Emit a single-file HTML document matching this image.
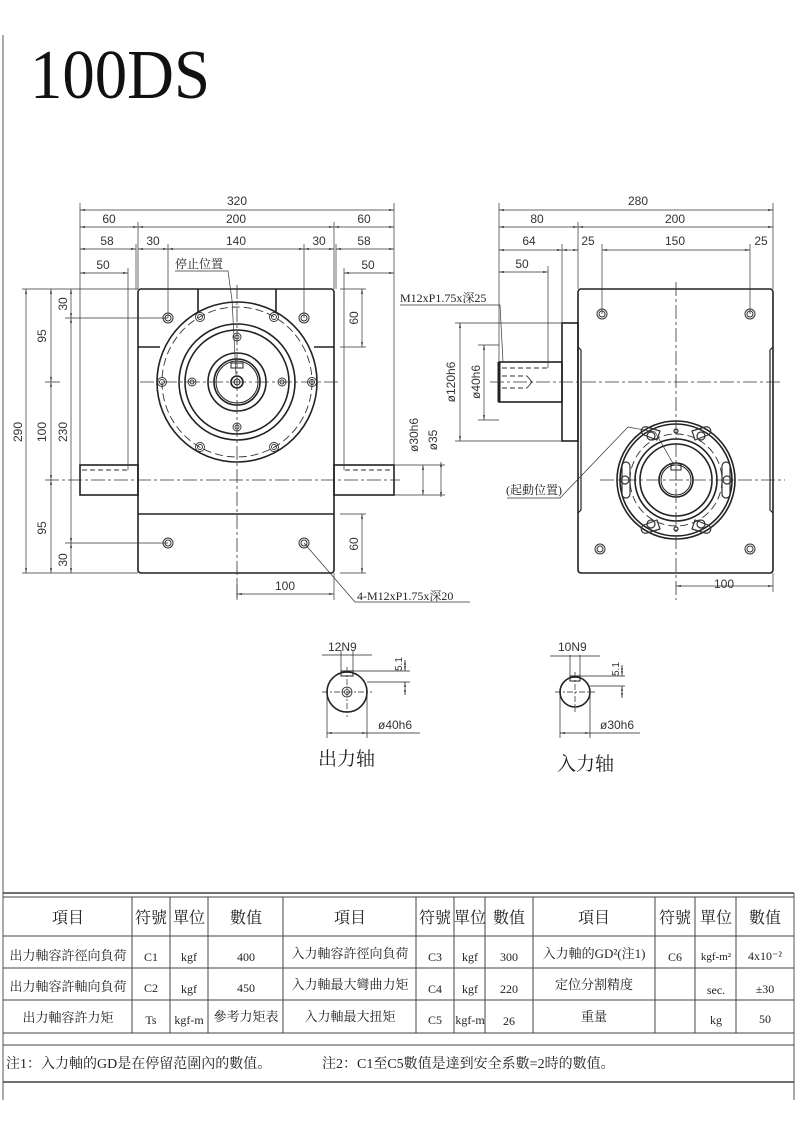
<!DOCTYPE html>
<html><head><meta charset="utf-8"><style>
html,body{margin:0;padding:0;background:#fff}
svg{display:block}
text{font-family:"Liberation Sans","Noto Sans CJK TC",sans-serif;fill:#333}
.s{font-family:"Liberation Serif","Noto Serif CJK SC",serif;fill:#222}
</style></head><body>
<svg width="800" height="1131" viewBox="0 0 800 1131" xmlns="http://www.w3.org/2000/svg">
<defs>
<marker id="a" viewBox="0 0 10 4" refX="10" refY="2" markerWidth="7" markerHeight="3" orient="auto-start-reverse"><path d="M0,0L10,2L0,4z" fill="#333"/></marker>
</defs>
<line x1="3" y1="35" x2="3" y2="1100" stroke="#555" stroke-width="1"/>
<line x1="794" y1="893" x2="794" y2="1100" stroke="#555"/>
<text x="30" y="98" class="s" font-size="70" textLength="180" lengthAdjust="spacingAndGlyphs" style="fill:#111">100DS</text>

<g stroke="#222" fill="none" stroke-width="1.6">
<rect x="138" y="289" width="196" height="284" rx="3"/>
<line x1="138" y1="347" x2="160" y2="347"/><line x1="314" y1="347" x2="334" y2="347"/>
<line x1="198" y1="289" x2="198" y2="325"/><line x1="276" y1="289" x2="276" y2="325"/>
<line x1="138" y1="514" x2="334" y2="514"/>
<rect x="80" y="465" width="58" height="30"/>
<rect x="334" y="465" width="60" height="30"/>
<circle cx="237" cy="382" r="80" fill="#fff"/>
<circle cx="237" cy="382" r="58"/><circle cx="237" cy="382" r="52"/>
<circle cx="237" cy="382" r="29"/><circle cx="237" cy="382" r="23"/><circle cx="237" cy="382" r="21" stroke-width="1"/>
<circle cx="237" cy="382" r="6"/><circle cx="237" cy="382" r="3" stroke-width="1"/>
<rect x="231" y="363" width="12" height="5" stroke-width="1"/>
<rect x="578" y="289" width="195" height="284" rx="3"/>
<path d="M578,347 L581,350 L581,510 L578,513 M773,347 L770,350 L770,510 L773,513" stroke-width="1.2"/>
<rect x="562" y="323" width="16" height="118"/>
<rect x="499" y="362" width="63" height="40"/>
<line x1="499" y1="362" x2="499" y2="402" stroke-width="3"/>
<circle cx="676" cy="480" r="59" fill="#fff"/><circle cx="676" cy="480" r="56"/>
<circle cx="676" cy="480" r="41"/><circle cx="676" cy="480" r="36"/>
<circle cx="676" cy="480" r="17"/><circle cx="676" cy="480" r="15" stroke-width="1"/>
<rect x="671" y="465" width="10" height="5" stroke-width="1"/>
</g>

<g stroke="#333" fill="none" stroke-width="0.9">
<circle cx="237" cy="382" r="75" stroke-dasharray="8,4"/>
<circle cx="676" cy="480" r="46" stroke-dasharray="8,4"/>
<g>
<circle cx="312" cy="382" r="4.5"/><circle cx="312" cy="382" r="2.5"/>
<circle cx="162" cy="382" r="4.5"/><circle cx="162" cy="382" r="2.5"/>
<circle cx="274" cy="317" r="4.5"/><circle cx="274" cy="317" r="2.5"/>
<circle cx="200" cy="317" r="4.5"/><circle cx="200" cy="317" r="2.5"/>
<circle cx="274" cy="447" r="4.5"/><circle cx="274" cy="447" r="2.5"/>
<circle cx="200" cy="447" r="4.5"/><circle cx="200" cy="447" r="2.5"/>
<circle cx="237" cy="337" r="4"/><circle cx="237" cy="337" r="2"/>
<circle cx="237" cy="427" r="4"/><circle cx="237" cy="427" r="2"/>
<circle cx="192" cy="382" r="4"/><circle cx="192" cy="382" r="2"/>
<circle cx="282" cy="382" r="4"/><circle cx="282" cy="382" r="2"/>
</g>
<g stroke-width="1">
<circle cx="168" cy="318" r="5"/><circle cx="168" cy="318" r="3"/>
<circle cx="304" cy="318" r="5"/><circle cx="304" cy="318" r="3"/>
<circle cx="168" cy="543" r="5"/><circle cx="168" cy="543" r="3"/>
<circle cx="304" cy="543" r="5"/><circle cx="304" cy="543" r="3"/>
<circle cx="602" cy="314" r="5"/><circle cx="602" cy="314" r="3"/>
<circle cx="750" cy="314" r="5"/><circle cx="750" cy="314" r="3"/>
<circle cx="600" cy="549" r="5"/><circle cx="600" cy="549" r="3"/>
<circle cx="750" cy="549" r="5"/><circle cx="750" cy="549" r="3"/>
</g>
<g stroke-width="1.2">
<circle cx="727" cy="480" r="4"/><circle cx="625" cy="480" r="4"/>
<circle cx="701" cy="436" r="4"/><circle cx="651" cy="436" r="4"/>
<circle cx="701" cy="524" r="4"/><circle cx="651" cy="524" r="4"/>
<circle cx="676" cy="431" r="2"/><circle cx="676" cy="529" r="2"/>
<path d="M722,466 a4,4 0 0 1 8,0 v28 a4,4 0 0 1 -8,0z"/>
<path d="M622,466 a4,4 0 0 1 8,0 v28 a4,4 0 0 1 -8,0z"/>
<path d="M692,431 l13,-4 a4,4 0 0 1 3,8 l-13,5z M660,431 l-13,-4 a4,4 0 0 0 -3,8 l13,5z"/>
<path d="M692,529 l13,4 a4,4 0 0 0 3,-8 l-13,-5z M660,529 l-13,4 a4,4 0 0 1 -3,-8 l13,-5z"/>
</g>
<g stroke-dasharray="14,3,3,3" stroke-width="0.8">
<line x1="237" y1="285" x2="237" y2="600"/>
<line x1="140" y1="382" x2="340" y2="382"/>
<line x1="45" y1="480" x2="400" y2="480"/>
<line x1="676" y1="282" x2="676" y2="600"/>
<line x1="490" y1="382" x2="780" y2="382"/>
<line x1="600" y1="480" x2="785" y2="480"/>
</g>
<g stroke-dasharray="5,3">
<path d="M82,470 H128 M345,470 H390"/>
<path d="M502,368 H548 M502,376 H527 M502,388 H527"/>
</g>
<path d="M527,376 L532,382 L527,388" />

<g stroke-width="0.7">
<path d="M80,203 V465 M394,203 V465 M138,222 V289 M334,222 V289 M136,244 V289 M168,244 V318 M304,244 V318 M336,244 V289 M128,268 V470 M344,268 V470"/>
<path d="M22,289 H138 M22,573 H138 M45,382 H60 M65,318 H168 M65,543 H168 M340,289 H366 M340,347 H366 M340,514 H366 M340,573 H366"/>
<path d="M237,580 V600 M334,573 V600 M394,465 H445 M394,495 H445"/>
<path d="M499,203 V362 M773,203 V289 M578,222 V289 M562,244 V323 M602,244 V314 M750,244 V314 M548,266 V368"/>
<path d="M455,323 H562 M455,441 H562 M478,345 H499 M478,420 H499 M773,573 V592"/>
<path d="M175,271 H228 L232,300 L236,375"/>
<path d="M304,543 L355,602 H470"/>
<path d="M400,305 H500 L503,362"/>
<path d="M507,498 H560 L628,427 L655,432 L674,465"/>
</g>

<g stroke-width="0.7" marker-start="url(#a)" marker-end="url(#a)">
<line x1="80" y1="210" x2="394" y2="210"/>
<line x1="80" y1="227" x2="138" y2="227"/><line x1="138" y1="227" x2="334" y2="227"/><line x1="334" y1="227" x2="394" y2="227"/>
<line x1="80" y1="249" x2="136" y2="249"/><line x1="138" y1="249" x2="168" y2="249"/><line x1="168" y1="249" x2="304" y2="249"/><line x1="304" y1="249" x2="334" y2="249"/><line x1="336" y1="249" x2="394" y2="249"/>
<line x1="80" y1="273" x2="128" y2="273"/><line x1="344" y1="273" x2="394" y2="273"/>
<line x1="26" y1="289" x2="26" y2="573"/>
<line x1="51" y1="289" x2="51" y2="382"/><line x1="51" y1="382" x2="51" y2="480"/><line x1="51" y1="480" x2="51" y2="573"/>
<line x1="71" y1="289" x2="71" y2="318"/><line x1="71" y1="318" x2="71" y2="543"/><line x1="71" y1="543" x2="71" y2="573"/>
<line x1="362" y1="289" x2="362" y2="347"/><line x1="362" y1="514" x2="362" y2="573"/>
<line x1="237" y1="594" x2="334" y2="594"/>
<line x1="423" y1="465" x2="423" y2="495"/><line x1="441" y1="462" x2="441" y2="497"/>
<line x1="499" y1="210" x2="773" y2="210"/>
<line x1="499" y1="227" x2="578" y2="227"/><line x1="578" y1="227" x2="773" y2="227"/>
<line x1="499" y1="250" x2="562" y2="250"/><line x1="562" y1="250" x2="578" y2="250"/><line x1="602" y1="250" x2="750" y2="250"/>
<line x1="499" y1="272" x2="548" y2="272"/>
<line x1="460" y1="323" x2="460" y2="441"/><line x1="484" y1="345" x2="484" y2="420"/>
<line x1="676" y1="586" x2="773" y2="586"/>
</g>
</g>

<g font-size="12" text-anchor="middle">
<text x="237" y="205">320</text>
<text x="109" y="223">60</text><text x="236" y="223">200</text><text x="364" y="223">60</text>
<text x="107" y="245">58</text><text x="153" y="245">30</text><text x="236" y="245">140</text><text x="319" y="245">30</text><text x="364" y="245">58</text>
<text x="103" y="269">50</text><text x="368" y="269">50</text>
<text x="638" y="205">280</text>
<text x="537" y="223">80</text><text x="675" y="223">200</text>
<text x="529" y="245">64</text><text x="588" y="245">25</text><text x="675" y="245">150</text><text x="761" y="245">25</text>
<text x="522" y="268">50</text>
<text x="285" y="590">100</text><text x="724" y="588">100</text>
<text transform="translate(22,432) rotate(-90)">290</text>
<text transform="translate(46,336) rotate(-90)">95</text>
<text transform="translate(46,432) rotate(-90)">100</text>
<text transform="translate(46,528) rotate(-90)">95</text>
<text transform="translate(67,304) rotate(-90)">30</text>
<text transform="translate(67,432) rotate(-90)">230</text>
<text transform="translate(67,560) rotate(-90)">30</text>
<text transform="translate(358,318) rotate(-90)">60</text>
<text transform="translate(358,544) rotate(-90)">60</text>
<text transform="translate(418,435) rotate(-90)">ø30h6</text>
<text transform="translate(437,440) rotate(-90)">ø35</text>
<text transform="translate(455,382) rotate(-90)">ø120h6</text>
<text transform="translate(480,382) rotate(-90)">ø40h6</text>
</g>
<g font-size="12">
<text x="175" y="268" class="s">停止位置</text>
<text x="400" y="302" class="s">M12xP1.75x深25</text>
<text x="357" y="600" class="s">4-M12xP1.75x深20</text>
<text x="506" y="494" class="s">(起動位置)</text>
</g>

<g stroke="#222" fill="none">
<circle cx="347" cy="692" r="20" stroke-width="1.6"/>
<circle cx="347" cy="692" r="5" stroke-width="0.8"/><circle cx="347" cy="692" r="2.5" stroke-width="0.8"/>
<rect x="341" y="671" width="12" height="5" stroke-width="1"/>
<circle cx="575" cy="692" r="15" stroke-width="1.6"/>
<rect x="570" y="676" width="10" height="5" stroke-width="1"/>
<g stroke-width="0.7" stroke-dasharray="6,2,2,2"><path d="M322,692 H372 M347,667 V717 M555,692 H595 M575,672 V712"/></g>
<g stroke-width="0.7">
<path d="M341,650 V671 M353,650 V671 M327,692 V738 M367,692 V738 M353,671 H410 M367,682 H410"/>
<path d="M570,655 V676 M580,655 V676 M560,692 V738 M590,692 V738 M580,676 H625 M590,686 H625"/>
<path d="M322,655 H372 M367,733 H420 M550,656 H600 M590,733 H640"/>
</g>
<g stroke-width="0.7" marker-start="url(#a)" marker-end="url(#a)">
<line x1="327" y1="733" x2="367" y2="733"/><line x1="405" y1="660" x2="405" y2="671"/><line x1="405" y1="682" x2="405" y2="695"/>
<line x1="560" y1="733" x2="590" y2="733"/><line x1="622" y1="665" x2="622" y2="676"/><line x1="622" y1="686" x2="622" y2="698"/>
</g>
</g>
<g font-size="12">
<text x="328" y="651">12N9</text><text x="558" y="651">10N9</text>
<text x="378" y="729">ø40h6</text><text x="600" y="729">ø30h6</text>
<text transform="translate(402,671) rotate(-90)" font-size="10">5.1</text>
<text transform="translate(619,676) rotate(-90)" font-size="10">5.1</text>
</g>
<text x="318" y="765" font-size="19" class="s">出力轴</text>
<text x="557" y="770" font-size="19" class="s">入力轴</text>

<g stroke="#444" stroke-width="1" fill="none">
<line x1="3" y1="893" x2="794" y2="893" stroke-width="1.5"/>
<line x1="3" y1="897" x2="794" y2="897"/>
<line x1="3" y1="936" x2="794" y2="936"/>
<line x1="3" y1="968" x2="794" y2="968"/>
<line x1="3" y1="1000" x2="794" y2="1000"/>
<line x1="3" y1="1033" x2="794" y2="1033"/>
<line x1="3" y1="1045" x2="794" y2="1045"/>
<line x1="3" y1="1082" x2="794" y2="1082" stroke-width="1.5"/>
<path d="M132,897V1033 M170,897V1033 M208,897V1033 M283,897V1033 M416,897V1033 M454,897V1033 M485,897V1033 M533,897V1033 M655,897V1033 M695,897V1033 M736,897V1033"/>
</g>
<g text-anchor="middle">
<text x="68" y="923" class="s" font-size="16">項目</text><text x="151" y="923" class="s" font-size="16">符號</text><text x="189" y="923" class="s" font-size="16">單位</text><text x="246" y="923" class="s" font-size="16">數值</text>
<text x="350" y="923" class="s" font-size="16">項目</text><text x="435" y="923" class="s" font-size="16">符號</text><text x="470" y="923" class="s" font-size="16">單位</text><text x="509" y="923" class="s" font-size="16">數值</text>
<text x="594" y="923" class="s" font-size="16">項目</text><text x="675" y="923" class="s" font-size="16">符號</text><text x="716" y="923" class="s" font-size="16">單位</text><text x="765" y="923" class="s" font-size="16">數值</text>

<text x="68" y="960" class="s" font-size="13">出力軸容許徑向負荷</text><text x="151" y="961" class="s" font-size="12">C1</text><text x="189" y="961" class="s" font-size="12">kgf</text><text x="246" y="961" class="s" font-size="12">400</text>
<text x="350" y="958" class="s" font-size="13">入力軸容許徑向負荷</text><text x="435" y="961" class="s" font-size="12">C3</text><text x="470" y="961" class="s" font-size="12">kgf</text><text x="509" y="961" class="s" font-size="12">300</text>
<text x="594" y="958" class="s" font-size="13">入力軸的GD²(注1)</text><text x="675" y="961" class="s" font-size="12">C6</text><text x="716" y="960" class="s" font-size="11">kgf-m²</text><text x="765" y="960" class="s" font-size="12">4x10⁻²</text>

<text x="68" y="991" class="s" font-size="13">出力軸容許軸向負荷</text><text x="151" y="992" class="s" font-size="12">C2</text><text x="189" y="993" class="s" font-size="12">kgf</text><text x="246" y="992" class="s" font-size="12">450</text>
<text x="350" y="989" class="s" font-size="13">入力軸最大彎曲力矩</text><text x="435" y="993" class="s" font-size="12">C4</text><text x="470" y="993" class="s" font-size="12">kgf</text><text x="509" y="993" class="s" font-size="12">220</text>
<text x="594" y="989" class="s" font-size="13">定位分割精度</text><text x="716" y="994" class="s" font-size="12">sec.</text><text x="765" y="993" class="s" font-size="12">±30</text>

<text x="68" y="1022" class="s" font-size="13">出力軸容許力矩</text><text x="151" y="1024" class="s" font-size="12">Ts</text><text x="189" y="1024" class="s" font-size="12">kgf-m</text><text x="246" y="1021" class="s" font-size="13">參考力矩表</text>
<text x="350" y="1021" class="s" font-size="13">入力軸最大扭矩</text><text x="435" y="1024" class="s" font-size="12">C5</text><text x="470" y="1024" class="s" font-size="12">kgf-m</text><text x="509" y="1025" class="s" font-size="12">26</text>
<text x="594" y="1021" class="s" font-size="13">重量</text><text x="716" y="1024" class="s" font-size="12">kg</text><text x="765" y="1023" class="s" font-size="12">50</text>
</g>
<text x="6" y="1068" font-size="14" class="s">注1：入力軸的GD是在停留范圍內的數值。</text>
<text x="322" y="1068" font-size="14" class="s">注2：C1至C5數值是達到安全系數=2時的數值。</text>
</svg>
</body></html>
